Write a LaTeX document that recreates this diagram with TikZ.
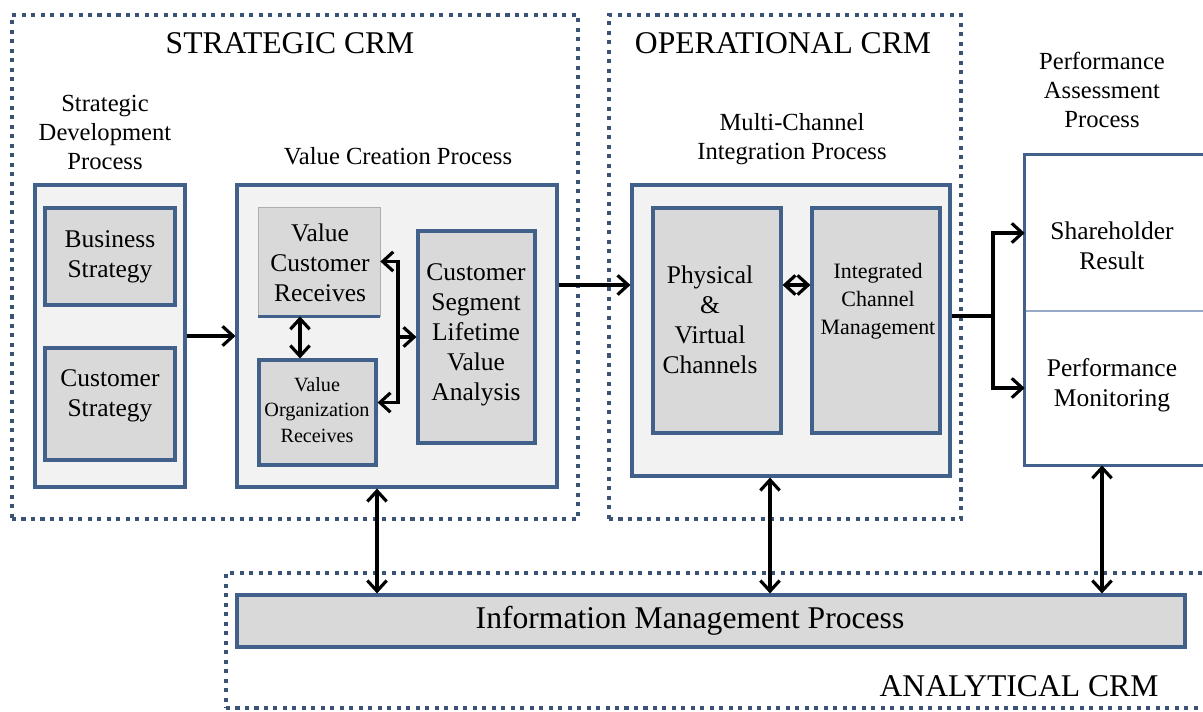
\documentclass[tikz,border=0pt]{standalone}
\usepackage{fontspec}
\setmainfont{Liberation Serif}
\usetikzlibrary{arrows.meta,fit,calc}
\definecolor{bord}{RGB}{65,97,138}
\definecolor{dotc}{RGB}{58,82,118}
\definecolor{outerf}{RGB}{242,242,242}
\definecolor{innerf}{RGB}{217,217,217}
\definecolor{divc}{RGB}{150,170,198}
\begin{document}
\begin{tikzpicture}[x=0.02cm,y=-0.02cm,
 zone/.style={draw=dotc,line width=2.3pt,dash pattern=on 2.3pt off 3.1pt,inner sep=0pt},
 outerbox/.style={draw=bord,fill=outerf,line width=1.8pt,inner sep=0pt},
 innerbox/.style={draw=bord,fill=innerf,line width=1.8pt,inner sep=0pt},
 whitebox/.style={fill=white,inner sep=0pt},
 txt/.style={font=\fontsize{14.5}{17}\selectfont,align=center,inner sep=0pt},
 smalltxt/.style={font=\fontsize{12.5}{15.8}\selectfont,align=center,inner sep=0pt},
 tinytxt/.style={font=\fontsize{11.5}{14.7}\selectfont,align=center,inner sep=0pt},
 title/.style={font=\fontsize{18}{21}\selectfont,inner sep=0pt},
 lbl/.style={font=\fontsize{14}{16.5}\selectfont,align=center,inner sep=0pt},
 conn/.style={line width=1.8pt,black},
 arr/.style={conn,-{Straight Barb[length=6pt,width=11pt]}},
 dbl/.style={conn,{Straight Barb[length=6pt,width=11pt]}-{Straight Barb[length=6pt,width=11pt]}}
]
\useasboundingbox (0,0) rectangle (1203,711);
\fill[white] (0,0) rectangle (1203,711);

% zones
\node[zone, fit={(12,15) (578,519)}] (szone) {};
\node[zone, fit={(609,15) (961,519)}] (ozone) {};
\node[zone, fit={(226,573) (1230,708)}] (azone) {};

\node[title] (stitle) at (290,43) {STRATEGIC CRM};
\node[title] (otitle) at (783,43) {OPERATIONAL CRM};
\node[title] (atitle) at (1019,686) {ANALYTICAL CRM};

% strategic development
\node[lbl] (sdpl) at (105,132) {Strategic\\Development\\Process};
\node[outerbox, fit={(35,185) (185,487)}] (sdp) {};
\node[innerbox, fit={(45,208) (175,305)}] (bs) {};
\node[txt] (bsT) at (110,257) {Business\\Strategy};
\node[innerbox, fit={(45,348) (175,460)}] (cs) {};
\node[txt] (csT) at (110,396) {Customer\\Strategy};

% value creation
\node[lbl] (vcpl) at (398,156) {Value Creation Process};
\node[outerbox, fit={(237,185) (557,487)}] (vcp) {};
\node[fill=innerf, draw=innerf!80!black, line width=0.4pt, inner sep=0pt, fit={(258,207) (380,316)}] (vcr) {};
\draw[draw=bord, line width=1.8pt] (vcr.south west) -- (vcr.south east);
\node[txt] (vcrT) at (320,263) {Value\\Customer\\Receives};
\node[innerbox, fit={(259,360) (376,465)}] (vor) {};
\node[tinytxt] (vorT) at (317,410) {Value\\Organization\\Receives};
\node[innerbox, fit={(418,231) (535,443)}] (cslva) {};
\node[txt] (cslvaT) at (476,335) {Customer\\Segment\\Lifetime\\Value\\Analysis};

% multi-channel
\node[lbl] (mcipl) at (792,139) {Multi-Channel\\Integration Process};
\node[outerbox, fit={(632,185) (950,476)}] (mcip) {};
\node[innerbox, fit={(653,208) (781,433)}] (pvc) {};
\node[txt] (pvcT) at (710,320) {Physical\\\&\\Virtual\\Channels};
\node[innerbox, fit={(812,208) (940,433)}] (icm) {};
\node[smalltxt] (icmT) at (878,301) {Integrated\\Channel\\Management};

% performance
\node[lbl] (pafl) at (1102,90) {Performance\\Assessment\\Process};
\node[whitebox, fit={(1025,155) (1215,311)}] (sr) {};
\node[whitebox, fit={(1025,311) (1215,465)}] (pm) {};
\draw[divc, line width=1pt] (sr.south west) -- (sr.south east);
\draw[bord, line width=1.8pt] (sr.north east) -- (sr.north west) -- (pm.south west) -- (pm.south east);
\node[txt] (srT) at (1112,246) {Shareholder\\Result};
\node[txt] (pmT) at (1112,385) {Performance\\Monitoring};

% information management
\node[innerbox, fit={(237,595) (1185,647)}] (imp) {};
\node[title] (impT) at (690,621) {Information Management Process};

% helper coordinates
\coordinate (yA) at (0,285);
\coordinate (yB) at (0,316);
\coordinate (xV) at (300,0);
\coordinate (bx) at (398,337);
\coordinate (jn) at (993,316);
\coordinate (xa) at (377,0);
\coordinate (xb) at (770,0);
\coordinate (xc) at (1102,0);

% connectors
\draw[arr] (sdp.east) -- (vcp.west);
\draw[arr] (vcp.east |- yA) -- (mcip.west |- yA);
\draw[dbl] (pvc.east |- yA) -- (icm.west |- yA);
\draw[dbl] (vcr.south -| xV) -- (vor.north -| xV);
\draw[dbl] (vcr.east) -| (bx) |- ([yshift=0.2cm]vor.east);
\draw[arr] (bx) -- (cslva.west |- bx);
\draw[conn] (mcip.east |- yB) -- (jn);
\draw[arr] (jn) |- (sr.west);
\draw[arr] (jn) |- (pm.west);
\draw[dbl] (vcp.south -| xa) -- (imp.north -| xa);
\draw[dbl] (mcip.south -| xb) -- (imp.north -| xb);
\draw[dbl] (pm.south -| xc) -- (imp.north -| xc);
\end{tikzpicture}
\end{document}
